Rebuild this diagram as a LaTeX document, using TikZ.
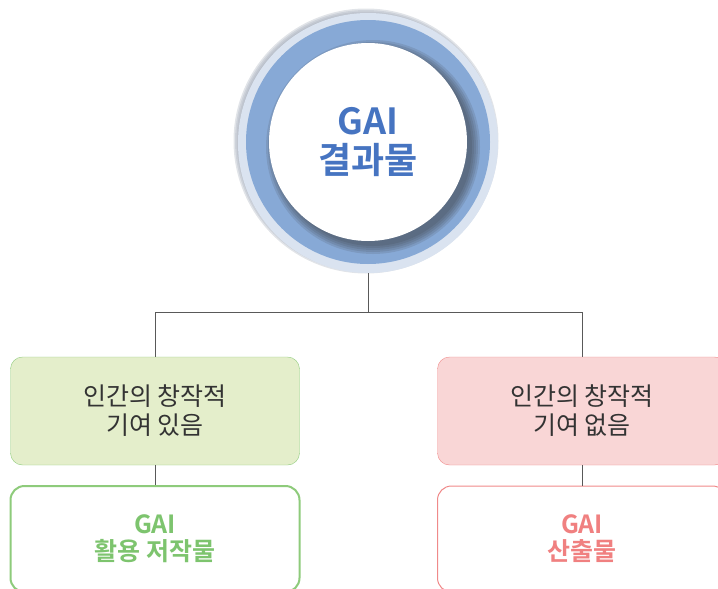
\documentclass[tikz,border=0pt]{standalone}
\usepackage{fontspec}
\newfontfamily\kr{Noto Sans CJK KR}[BoldFont={Noto Sans CJK KR Bold}]
\definecolor{ringgrey}{HTML}{A9B1BE}
\definecolor{ringlight}{HTML}{DAE3F0}
\definecolor{ringblue}{HTML}{87A9D6}
\definecolor{titleblue}{HTML}{4674C1}
\definecolor{yesfill}{HTML}{E4EECB}
\definecolor{yesline}{HTML}{8ECB7B}
\definecolor{yestext}{HTML}{7DC46E}
\definecolor{nofill}{HTML}{F9D6D6}
\definecolor{noline}{HTML}{F08A8A}
\definecolor{notext}{HTML}{F08080}

\begin{document}
\begin{tikzpicture}[x=1pt, y=-1pt,
    every node/.style={font=\kr, align=center, inner sep=0pt},
    box/.style={draw, rounded corners=12pt, minimum width=289pt, minimum height=108pt,
                font=\kr\fontsize{25}{29}\selectfont, text=black!80},
    resbox/.style={draw, fill=white, rounded corners=14pt, minimum width=289pt, minimum height=106pt,
                font=\kr\bfseries\fontsize{25}{27}\selectfont},
    link/.style={draw=black!65, line width=1pt}]
    \useasboundingbox (0,0) rectangle (718,589);
    \clip (0,0) rectangle (718,589);

    % soft grey rim, upper left
    \foreach \r in {128,129.5,131,132.5}
        \fill[ringgrey, opacity=0.35] (366,141) circle (\r);
    \node[circle, fill=ringlight, minimum size=260pt] (halo) at (368,143) {};
    \node[circle, fill=ringblue, minimum size=244pt] (ring) at (368,142) {};
    % blurred shadow of the inner disc
    \foreach \r in {99,101,103,105,107}
        \fill[black!80, opacity=0.13] (373,147) circle (\r);
    \node[circle, fill=white, minimum size=198pt, text=titleblue,
          font=\kr\bfseries\fontsize{36}{39}\selectfont] (res) at (368,142) {GAI\\결과물};

    \node[box, fill=yesfill, draw=yesline] (yes) at (155,411) {인간의 창작적\\기여 있음};
    \node[box, fill=nofill, draw=noline] (no) at (582,411) {인간의 창작적\\기여 없음};

    \node[resbox, draw=yesline, line width=2pt, text=yestext] (gyes) at (155,539) {GAI\\활용 저작물};
    \node[resbox, draw=noline, line width=1pt, text=notext] (gno) at (582,539) {GAI\\산출물};

    \coordinate (split) at (368,312);
    \draw[link] (halo.south) -- (split);
    \draw[link] (split) -| (yes.north);
    \draw[link] (split) -| (no.north);
    \draw[link] (yes.south) -- (gyes.north);
    \draw[link] (no.south) -- (gno.north);
\end{tikzpicture}
\end{document}
